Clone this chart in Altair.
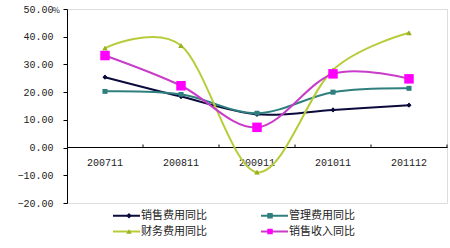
import altair as alt
import pandas as pd

categories = ["200711", "200811", "200911", "201011", "201112"]
series_names = ["销售费用同比", "管理费用同比", "财务费用同比", "销售收入同比"]
sales_exp = [25.4, 18.4, 12.0, 13.6, 15.3]
admin_exp = [20.3, 19.2, 12.4, 20.0, 21.4]
fin_exp = [35.9, 36.8, -8.9, 28.0, 41.4]
sales_rev = [33.2, 22.3, 7.3, 26.6, 24.8]
y_ticks = [-20, -10, 0, 10, 20, 30, 40, 50]

line_colors = ["#0a0a3c", "#2f7f7f", "#b8cc3a", "#c83cc8"]
marker_colors = ["#0a0a3c", "#2f7f7f", "#9db024", "#ff00ff"]
marker_shapes = ["diamond", "square", "triangle-up", "square"]
marker_sizes = [22, 22, 30, 90]

ZW = "\u200b"
rows = []
for name, vals in zip(series_names, [sales_exp, admin_exp, fin_exp, sales_rev]):
    for c, v in zip(categories, vals):
        rows.append({"cat": c, "series": name, "series_m": name + ZW, "value": v})
df = pd.DataFrame(rows)
ticks_df = pd.DataFrame({"cat": categories})
marker_domain = [n + ZW for n in series_names]

FONT = "Noto Sans CJK SC"
NUMFONT = "Liberation Mono"
xaxis = alt.Axis(title=None, offset=-56, ticks=False, labelAngle=0,
                 labelPadding=10, labelFont=NUMFONT, labelFontSize=10,
                 labelColor="#222", domainColor="#000", domainWidth=1)
xscale = alt.Scale(paddingInner=0, paddingOuter=0)
yscale = alt.Scale(domain=[-20, 50], nice=False, zero=False)
yaxis = alt.Axis(title="%", titleAngle=0, titleX=-15, titleY=1,
                 titleAlign="left", titleBaseline="middle",
                 titleFont=FONT, titleFontSize=8, titleFontWeight="normal",
                 titleColor="#222",
                 values=y_ticks, labelExpr="format(datum.value, '.2f')",
                 labelOverlap=False, grid=False, tickSize=4, tickColor="#000",
                 tickWidth=1, domainColor="#000", labelFont=NUMFONT,
                 labelFontSize=10, labelColor="#222", labelPadding=10)

def X(**kw):
    return alt.X("cat:N", sort=categories, scale=xscale, axis=xaxis, **kw)

def Y():
    return alt.Y("value:Q", scale=yscale, axis=yaxis)

line_legend = alt.Legend(title=None, orient="none", legendX=54, legendY=201,
                         columns=2, direction="horizontal", columnPadding=50, rowPadding=4,
                         symbolType="M-3,0H3", symbolSize=81, symbolStrokeWidth=2,
                         labelFont=FONT, labelFontSize=11, labelColor="#222",
                         labelOffset=9)

lines = alt.Chart(df).mark_line(interpolate="cardinal", strokeWidth=2).encode(
    x=X(), y=Y(),
    color=alt.Color("series:N", scale=alt.Scale(domain=series_names, range=line_colors),
                    legend=line_legend),
)

marker_legend = alt.Legend(title=None, orient="none", legendX=56.5, legendY=201,
                           columns=2, direction="horizontal", columnPadding=51, rowPadding=4,
                           symbolSize=30, symbolStrokeWidth=0,
                           labelFont=FONT, labelFontSize=11, labelColor="#222",
                           labelOpacity=0, labelOffset=13)

legend_markers = alt.Chart(df).mark_point(filled=True, opacity=1, size=22).encode(
    x=X(), y=Y(),
    fill=alt.Fill("series_m:N", scale=alt.Scale(domain=marker_domain, range=marker_colors),
                  legend=marker_legend),
    shape=alt.Shape("series_m:N", scale=alt.Scale(domain=marker_domain, range=marker_shapes),
                    legend=marker_legend),
)

markers = []
for name, col, shp, sz in zip(series_names, marker_colors, marker_shapes, marker_sizes):
    markers.append(
        alt.Chart(df).transform_filter(alt.datum.series == name)
        .mark_point(filled=True, opacity=1, shape=shp, size=sz, color=col)
        .encode(x=X(), y=Y())
    )

tick_rules = alt.Chart(ticks_df).mark_rule(color="#000", strokeWidth=1).encode(
    x=X(bandPosition=1),
    y=alt.YDatum(0, scale=yscale, axis=yaxis),
    y2=alt.Y2Datum(1.1),
)

chart = alt.layer(lines, legend_markers, *markers, tick_rules).properties(
    width=380, height=194,
    autosize=alt.AutoSizeParams(type="none"),
    padding={"left": 67, "top": 9, "right": 3, "bottom": 45},
).configure_view(stroke=None).configure(background="white")

chart.save("out.html", embed_options={"renderer": "svg", "actions": False})
